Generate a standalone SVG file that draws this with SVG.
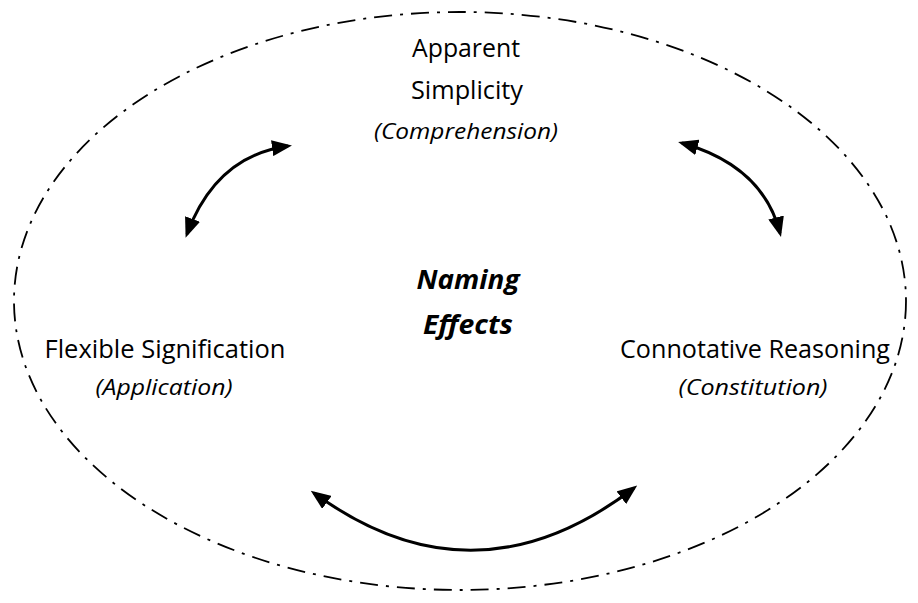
<svg xmlns="http://www.w3.org/2000/svg" width="918" height="603" viewBox="0 0 918 603">
<defs>
<marker id="ah" viewBox="0 0 20 16" refX="16" refY="8" markerWidth="20" markerHeight="16" markerUnits="userSpaceOnUse" orient="auto-start-reverse">
<path d="M0,0 L20,8 L0,16 Z" fill="#000"/>
</marker>
<style>
.t{font-family:"Open Sans","Noto Sans",sans-serif;font-size:25px;fill:#000;text-anchor:middle}
.i{font-family:"Open Sans","Noto Sans",sans-serif;font-size:22px;font-style:italic;fill:#000;text-anchor:middle}
.b{font-family:"Open Sans","Noto Sans",sans-serif;font-size:27px;font-style:italic;font-weight:bold;fill:#000;text-anchor:middle}
.c{fill:none;stroke:#000;stroke-width:3;marker-start:url(#ah);marker-end:url(#ah)}
</style>
</defs>
<rect width="918" height="603" fill="#fff"/>
<ellipse id="boundary" cx="460" cy="301" rx="446" ry="289" fill="none" stroke="#000" stroke-width="1.8" stroke-dasharray="18,8,3,8"/>
<g id="apparent">
<text class="t" x="466" y="57" textLength="108" lengthAdjust="spacingAndGlyphs">Apparent</text>
<text class="t" x="467" y="99" textLength="112" lengthAdjust="spacingAndGlyphs">Simplicity</text>
<text class="i" x="466" y="139" textLength="184" lengthAdjust="spacingAndGlyphs">(Comprehension)</text>
</g>
<g id="center">
<text class="b" x="468" y="289" textLength="103" lengthAdjust="spacingAndGlyphs">Naming</text>
<text class="b" x="468" y="334" textLength="90" lengthAdjust="spacingAndGlyphs">Effects</text>
</g>
<g id="flexible">
<text class="t" x="165" y="358" textLength="241" lengthAdjust="spacingAndGlyphs">Flexible Signification</text>
<text class="i" x="164" y="395" textLength="137" lengthAdjust="spacingAndGlyphs">(Application)</text>
</g>
<g id="connotative">
<text class="t" x="755" y="358" textLength="270" lengthAdjust="spacingAndGlyphs">Connotative Reasoning</text>
<text class="i" x="753" y="395" textLength="149" lengthAdjust="spacingAndGlyphs">(Constitution)</text>
</g>
<g id="connectors">
<path class="c" d="M187,234 Q216,156 288,146"/>
<path class="c" d="M682,143 Q763,166 780,233"/>
<path class="c" d="M314,493 Q474,610 634,488"/>
</g>
</svg>
